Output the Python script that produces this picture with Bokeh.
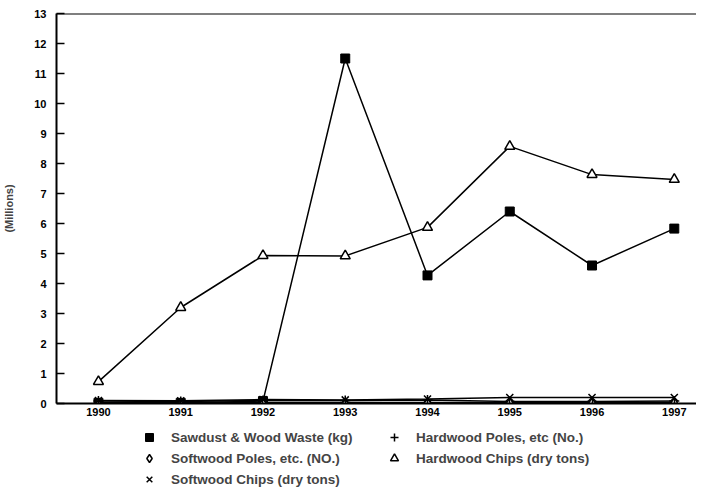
from bokeh.plotting import figure
from bokeh.layouts import column
from bokeh.models import Legend, LegendItem, Span, FixedTicker, Range1d
from bokeh.embed import file_html
from bokeh.resources import INLINE

years = [1990, 1991, 1992, 1993, 1994, 1995, 1996, 1997]
sawdust = [0.02, 0.02, 0.08, 11.5, 4.27, 6.4, 4.6, 5.83]
hardwood_poles = [0.08, 0.07, 0.1, 0.1, 0.12, 0.07, 0.07, 0.08]
softwood_poles = [0.03, 0.03, 0.03, 0.03, 0.03, 0.03, 0.03, 0.04]
hardwood_chips = [0.73, 3.2, 4.93, 4.92, 5.87, 8.57, 7.63, 7.47]
softwood_chips = [0.1, 0.09, 0.13, 0.12, 0.15, 0.2, 0.2, 0.2]
y_ticks = list(range(0, 14))

FONT = "Liberation Sans"

p = figure(frame_width=640, frame_height=390, output_backend="svg", toolbar_location=None,
           x_range=Range1d(1989.49, 1997.27), y_range=Range1d(0, 13),
           min_border_top=13, min_border_left=55, min_border_right=0,
           min_border_bottom=5)
p.outline_line_color = None
p.grid.grid_line_color = None
p.background_fill_color = "white"

for ax in (p.xaxis[0], p.yaxis[0]):
    ax.axis_line_width = 2
    ax.major_tick_line_width = 1.5
    ax.minor_tick_line_color = None
    ax.major_tick_out = 0
    ax.major_label_text_font = FONT
    ax.major_label_text_font_style = "bold"
    ax.major_label_text_font_size = "11px"
    ax.major_label_text_color = "black"

p.xaxis.ticker = FixedTicker(ticks=years)
p.xaxis.major_tick_in = 5
p.xaxis.major_label_standoff = 4
p.yaxis.ticker = FixedTicker(ticks=y_ticks)
p.yaxis.major_tick_in = 8
p.yaxis.major_label_standoff = 10
p.yaxis.axis_label = "(Millions)"
p.yaxis.axis_label_text_font = FONT
p.yaxis.axis_label_text_font_style = "bold"
p.yaxis.axis_label_text_font_size = "11px"
p.yaxis.axis_label_standoff = 16

p.add_layout(Span(location=13, dimension="width", line_color="black", line_width=2))

series = [
    ("Sawdust & Wood Waste (kg)", sawdust, dict(marker="square", size=9, fill_color="black", line_color="black")),
    ("Hardwood Poles, etc (No.)", hardwood_poles, dict(marker="cross", size=10, line_color="black", line_width=1.5)),
    ("Softwood Poles, etc. (NO.)", softwood_poles, dict(marker="diamond", size=9, fill_color="white", line_color="black", line_width=1.5)),
    ("Hardwood Chips (dry tons)", hardwood_chips, dict(marker="triangle", size=10, fill_color="white", line_color="black", line_width=1.5)),
    ("Softwood Chips (dry tons)", softwood_chips, dict(marker="x", size=10, line_color="black", line_width=1.5)),
]

# legend lives in its own strip below the chart
lf = figure(width=695, height=75, output_backend="svg", toolbar_location=None,
            x_range=Range1d(0, 1), y_range=Range1d(0, 1),
            min_border_top=0, min_border_left=0, min_border_right=0, min_border_bottom=0)
lf.axis.visible = False
lf.grid.grid_line_color = None
lf.outline_line_color = None

leg_renderers = {}
for label, vals, style in series:
    p.line(years, vals, line_color="black", line_width=1.5)
    p.scatter(years, vals, **style)
    # same series in the legend strip (outside its visible range), so legend glyphs match
    leg_renderers[label] = lf.scatter(years, vals, **style)

order = ["Sawdust & Wood Waste (kg)", "Softwood Poles, etc. (NO.)", "Softwood Chips (dry tons)",
         "Hardwood Poles, etc (No.)", "Hardwood Chips (dry tons)"]
items = [LegendItem(label=lab, renderers=[leg_renderers[lab]]) for lab in order]
legend = Legend(items=items, location=(83, 4), nrows=3, orientation="vertical",
                border_line_color=None, background_fill_alpha=0,
                label_text_font=FONT, label_text_font_style="bold", label_text_font_size="13.5px",
                glyph_width=20, glyph_height=20, label_height=20, label_standoff=12,
                label_width=212, spacing=1, padding=0, margin=0)
lf.add_layout(legend, "center")

layout = column(p, lf, spacing=0)
open("out.html", "w").write(file_html(layout, INLINE))
